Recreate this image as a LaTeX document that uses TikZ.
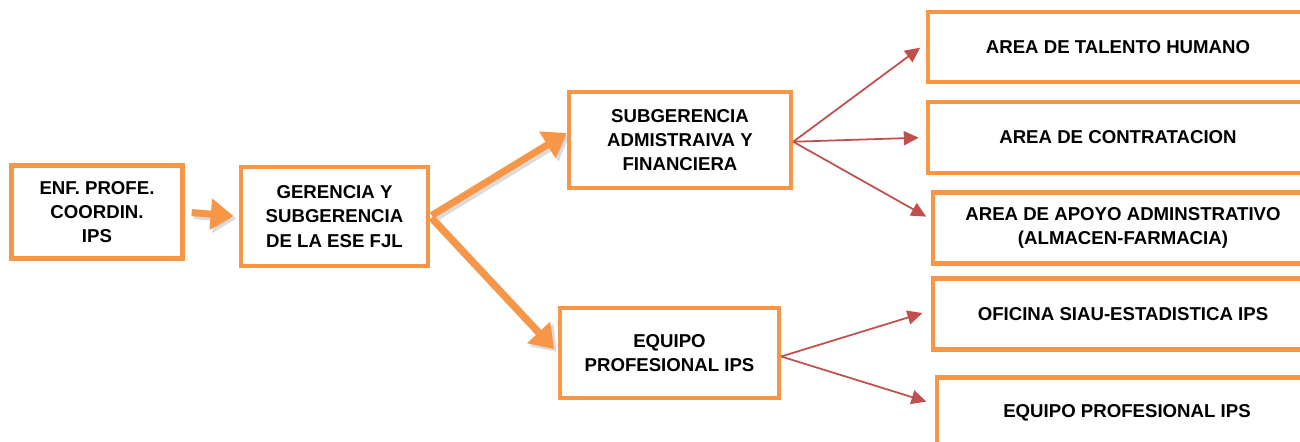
\documentclass[tikz,border=0pt]{standalone}
\usepackage{fontspec}
\setmainfont{Liberation Sans}
\usepackage{xcolor}
\usetikzlibrary{arrows.meta}

\definecolor{naranja}{HTML}{F79646}
\definecolor{rojo}{HTML}{C0504D}

\tikzset{
  caja/.style={draw=naranja,line width=2.5pt,fill=white,align=center,
    font=\fontsize{10.6}{13.8}\selectfont\bfseries,inner sep=2pt},
  flecha/.style={naranja,line width=4pt,-{Triangle[length=13pt,width=17pt]}},
  sombra/.style={black!35,opacity=.4,line width=4.5pt,-{Triangle[length=13pt,width=18pt]}},
  linea/.style={rojo,line width=1pt,-{Triangle[length=8.5pt,width=8pt]}}
}

\begin{document}
\begin{tikzpicture}
    \useasboundingbox (0,0) rectangle (26,8.84);
    \node[caja,minimum width=3.42cm,minimum height=1.86cm] (enf) at (1.94,4.6) {ENF. PROFE.\\COORDIN.\\IPS};
    \node[caja,minimum width=3.74cm,minimum height=1.98cm] (ger) at (6.69,4.51) {GERENCIA Y\\SUBGERENCIA\\DE LA ESE FJL};
    \node[caja,minimum width=4.44cm,minimum height=1.92cm] (sub) at (13.6,6.04) {SUBGERENCIA\\ADMISTRAIVA Y\\FINANCIERA};
    \node[caja,minimum width=4.38cm,minimum height=1.8cm] (equ) at (13.39,1.78) {EQUIPO\\PROFESIONAL IPS};
    \node[caja,minimum width=7.6cm,minimum height=1.4cm] (tal) at (22.36,7.9) {AREA DE TALENTO HUMANO};
    \node[caja,minimum width=7.6cm,minimum height=1.42cm] (con) at (22.36,6.09) {AREA DE CONTRATACION};
    \node[caja,minimum width=7.6cm,minimum height=1.42cm] (apo) at (22.46,4.28) {AREA DE APOYO ADMINSTRATIVO\\(ALMACEN-FARMACIA)};
    \node[caja,minimum width=7.6cm,minimum height=1.42cm] (ofi) at (22.46,2.56) {OFICINA SIAU-ESTADISTICA IPS};
    \node[caja,minimum width=7.6cm,minimum height=1.42cm] (pro) at (22.54,0.58) {EQUIPO PROFESIONAL IPS};
    % flechas naranjas con sombra
    \begin{scope}[transform canvas={xshift=1.5pt,yshift=-1.5pt}]
      \draw[sombra,shorten <=4pt,shorten >=3pt] (enf.east) -- (ger.west);
      \draw[sombra,shorten <=1pt] (ger.east) -- ([yshift=4pt]sub.west);
      \draw[sombra,shorten <=1pt,shorten >=3pt] (ger.east) -- (equ.west);
    \end{scope}
    \draw[flecha,shorten <=4pt,shorten >=3pt] (enf.east) -- (ger.west);
    \draw[flecha,shorten <=1pt] (ger.east) -- ([yshift=4pt]sub.west);
    \draw[flecha,shorten <=1pt,shorten >=3pt] (ger.east) -- (equ.west);
    % lineas rojas
    \draw[linea,shorten >=4pt] ([yshift=-1pt]sub.east) -- ([yshift=2pt]tal.west);
    \draw[linea,shorten >=4pt] ([yshift=-1pt]sub.east) -- (con.west);
    \draw[linea,shorten >=3pt] ([yshift=-1pt]sub.east) -- ([yshift=5pt]apo.west);
    \draw[linea,shorten >=5pt] ([yshift=-2pt]equ.east) -- ([yshift=2pt]ofi.west);
    \draw[linea,shorten >=5pt] ([yshift=-2pt]equ.east) -- ([yshift=5pt]pro.west);
  \end{tikzpicture}
\end{document}
